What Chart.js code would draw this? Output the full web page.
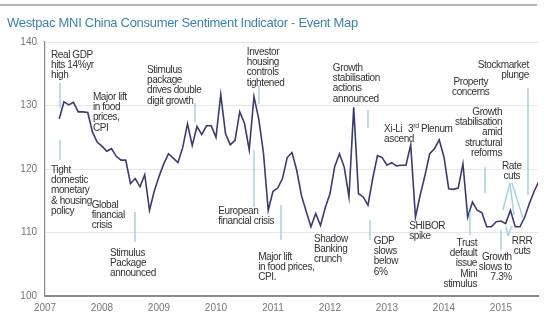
<!DOCTYPE html>
<html>
<head>
<meta charset="utf-8">
<script src="https://cdn.jsdelivr.net/npm/chart.js@4"></script>
<style>
  html, body { margin: 0; padding: 0; background: #fff; }
  #wrap { width: 550px; height: 322px; position: relative; }
</style>
</head>
<body>
<div id="wrap"><canvas id="myChart"></canvas></div>
<script>
// Westpac MNI China Consumer Sentiment, monthly, first reading Apr 2007
const startYear = 2007;
const startMonth = 4;
const sentiment = [
    127.9, 130.6, 130.1, 130.5, 129.0, 129.0, 128.9, 125.8, 124.2, 123.6,
    122.8, 123.2, 122.0, 121.4, 121.4, 117.7, 118.5, 117.2, 119.1, 113.5,
    116.5, 118.8, 120.8, 122.4, 121.7, 121.0, 123.4, 127.1, 123.7, 126.7,
    125.4, 126.8, 126.8, 125.0, 131.7, 125.6, 123.8, 124.5, 129.0, 127.2,
    123.0, 131.4, 127.9, 122.5, 113.5, 116.5, 117.0, 118.5, 121.8, 122.6,
    119.8, 115.8, 113.3, 110.9, 113.0, 111.1, 113.9, 116.1, 120.4, 122.4,
    120.3, 115.6, 129.7, 116.1, 115.6, 114.3, 118.5, 122.1, 121.8, 120.6,
    121.0, 120.5, 120.6, 120.6, 123.8, 112.4, 115.9, 119.0, 122.4, 123.2,
    124.6, 121.9, 116.9, 116.8, 117.0, 120.8, 112.4, 114.8, 113.5, 113.1,
    110.9, 110.9, 111.7, 111.8, 111.4, 113.5, 110.9, 110.9, 112.4, 114.6,
    116.5, 118.1
];
const yearTicks = [2007, 2008, 2009, 2010, 2011, 2012, 2013, 2014, 2015];
const valueTicks = [100, 110, 120, 130, 140];

// event notes, anchored in (year, index value)
const events = [
    { text: ['Real GDP', 'hits 14%yr', 'high'], x: 2007.105, y: 137.95, align: 'left' },
    { text: ['Tight', 'domestic', 'monetary', '& housing', 'policy'], x: 2007.105, y: 119.84, align: 'left' },
    { text: ['Major lift', 'in food', 'prices,', 'CPI'], x: 2007.84, y: 131.34, align: 'left' },
    { text: ['Global', 'financial', 'crisis'], x: 2007.82, y: 114.33, align: 'left' },
    { text: ['Stimulus', 'Package', 'announced'], x: 2008.14, y: 106.77, align: 'left' },
    { text: ['Stimulus', 'package', 'drives double', 'digit growth'], x: 2008.79, y: 135.59, align: 'left' },
    { text: ['Investor', 'housing', 'controls', 'tightened'], x: 2010.54, y: 138.43, align: 'left' },
    { text: ['European', 'financial crisis'], x: 2010.04, y: 113.39, align: 'left' },
    { text: ['Major lift', 'in food prices,', 'CPI.'], x: 2010.74, y: 106.14, align: 'left' },
    { text: ['Shadow', 'Banking', 'crunch'], x: 2011.72, y: 108.98, align: 'left' },
    { text: ['Growth', 'stabilisation', 'actions', 'announced'], x: 2012.05, y: 135.91, align: 'left' },
    { text: ['GDP', 'slows', 'below', '6%'], x: 2012.77, y: 108.66, align: 'left' },
    { text: ['Xi-Li', 'ascend'], x: 2012.95, y: 126.3, align: 'left' },
    { text: ['3', 'rd', ' Plenum'], x: 2013.37, y: 126.3, align: 'left', sup: true },
    { text: ['SHIBOR', 'spike'], x: 2013.39, y: 111.02, align: 'left' },
    { text: ['Property', 'concerns'], x: 2014.47, y: 133.7, align: 'center' },
    { text: ['Stockmarket', 'plunge'], x: 2015.49, y: 136.38, align: 'right' },
    { text: ['Growth', 'stabilisation', 'amid', 'structural', 'reforms'], x: 2015.02, y: 128.98, align: 'right' },
    { text: ['Rate', 'cuts'], x: 2015.19, y: 120.47, align: 'center' },
    { text: ['RRR', 'cuts'], x: 2015.37, y: 108.66, align: 'center' },
    { text: ['Trust', 'default', 'issue', 'Mini', 'stimulus'], x: 2014.58, y: 108.35, align: 'right' },
    { text: ['Growth', 'slows to', '7.3%'], x: 2015.19, y: 106.14, align: 'right' }
];

// thin leader lines [x1, y1, x2, y2]
const leaders = [
    [2007.263, 133.54, 2007.263, 129.61],
    [2007.263, 124.57, 2007.263, 121.42],
    [2008.579, 113.23, 2008.579, 108.50],
    [2009.632, 130.39, 2009.632, 127.40],
    [2010.754, 133.07, 2010.754, 130.24],
    [2010.667, 122.99, 2010.667, 114.02],
    [2011.140, 114.33, 2011.140, 108.82],
    [2012.667, 129.29, 2012.667, 126.46],
    [2012.702, 111.97, 2012.702, 108.82],
    [2015.474, 132.76, 2015.474, 115.91],
    [2014.719, 120.31, 2014.719, 116.22],
    [2014.456, 113.23, 2014.456, 109.61],
    [2015.000, 110.39, 2015.000, 107.24],
    [2015.158, 117.80, 2015.035, 113.54],
    [2015.158, 117.80, 2015.228, 112.76],
    [2015.193, 117.80, 2015.386, 112.28],
    [2015.123, 109.45, 2015.088, 111.02],
    [2015.123, 109.45, 2015.193, 111.02]
];

const points = sentiment.map((v, i) => ({ x: startYear + (startMonth - 1 + i) / 12, y: v }));

const notesPlugin = {
    id: 'notes',
    beforeDraw(chart) {
        const ctx = chart.ctx;
        ctx.save();
        ctx.fillStyle = '#fff';
        ctx.fillRect(0, 0, chart.width, chart.height);
        ctx.strokeStyle = '#b4b4b4';
        ctx.lineWidth = 2;
        ctx.beginPath();
        ctx.moveTo(0, 5);
        ctx.lineTo(537, 5);
        ctx.stroke();
        ctx.fillStyle = '#3d82ab';
        ctx.font = '13px Arial, "Liberation Sans", sans-serif';
        ctx.letterSpacing = '-0.3px';
        ctx.textBaseline = 'middle';
        ctx.fillText('Westpac MNI China Consumer Sentiment Indicator - Event Map', 7, 23);
        ctx.restore();
    },
    afterDatasetsDraw(chart) {
        const ctx = chart.ctx;
        const xs = chart.scales.x, ys = chart.scales.y;
        ctx.save();
        ctx.strokeStyle = '#a6d2e4';
        ctx.lineWidth = 1.5;
        leaders.forEach(l => {
            ctx.beginPath();
            ctx.moveTo(xs.getPixelForValue(l[0]), ys.getPixelForValue(l[1]));
            ctx.lineTo(xs.getPixelForValue(l[2]), ys.getPixelForValue(l[3]));
            ctx.stroke();
        });
        ctx.fillStyle = '#333';
        ctx.font = '10px Arial, "Liberation Sans", sans-serif';
        ctx.letterSpacing = '-0.4px';
        ctx.textBaseline = 'middle';
        events.forEach(ev => {
            const px = xs.getPixelForValue(ev.x);
            const py = ys.getPixelForValue(ev.y);
            if (ev.sup) {
                ctx.textAlign = 'left';
                let cx = px;
                ctx.fillText(ev.text[0], cx, py);
                cx += ctx.measureText(ev.text[0]).width;
                ctx.font = '7px Arial, "Liberation Sans", sans-serif';
                ctx.fillText(ev.text[1], cx, py - 3);
                cx += ctx.measureText(ev.text[1]).width;
                ctx.font = '10px Arial, "Liberation Sans", sans-serif';
                ctx.fillText(ev.text[2], cx, py);
                return;
            }
            ctx.textAlign = ev.align;
            ev.text.forEach((t, i) => ctx.fillText(t, px, py + i * 10.3));
        });
        ctx.restore();
    }
};

const ctx = document.getElementById('myChart').getContext('2d');
const myChart = new Chart(ctx, {
    type: 'line',
    data: {
        datasets: [{
            label: 'Consumer sentiment',
            data: points,
            borderColor: '#3b3a72',
            borderWidth: 1.6,
            pointRadius: 0,
            tension: 0,
            fill: false
        }]
    },
    options: {
        responsive: true,
        maintainAspectRatio: false,
        animation: false,
        devicePixelRatio: 1,
        layout: { padding: { top: 42, left: 5, right: 12, bottom: 0 } },
        plugins: {
            legend: { display: false },
            tooltip: { enabled: false },
            title: { display: false }
        },
        scales: {
            x: {
                type: 'linear',
                min: 2007,
                max: 2015.65,
                afterBuildTicks: s => { s.ticks = yearTicks.map(v => ({ value: v })); },
                afterFit: s => { s.height = 26; },
                ticks: {
                    callback: v => String(v),
                    color: '#777',
                    font: { size: 10, family: 'Arial, "Liberation Sans", sans-serif' },
                    padding: 6,
                    maxRotation: 0,
                    autoSkip: false
                },
                grid: { display: false, drawTicks: false },
                border: { color: '#8c8c8c', width: 2 }
            },
            y: {
                min: 100,
                max: 140,
                afterBuildTicks: s => { s.ticks = valueTicks.map(v => ({ value: v })); },
                afterFit: s => { s.width = 40; },
                ticks: {
                    color: '#777',
                    font: { size: 10, family: 'Arial, "Liberation Sans", sans-serif' },
                    padding: 8
                },
                grid: {
                    color: c => c.tick && c.tick.value === 100 ? 'rgba(0,0,0,0)' : '#e6e6e6',
                    drawTicks: false
                },
                border: { color: '#888', width: 1.2 }
            }
        }
    },
    plugins: [notesPlugin]
});
</script>
</body>
</html>
